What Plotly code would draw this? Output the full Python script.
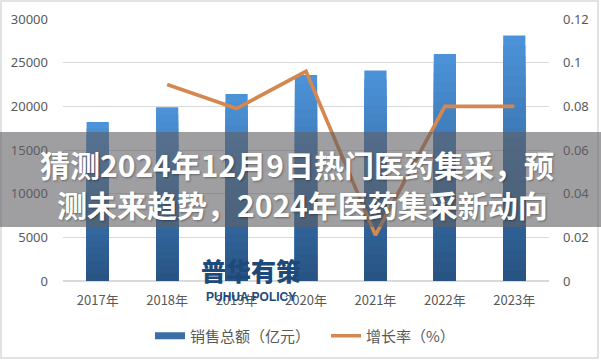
import plotly.graph_objects as go

years = ['2017年', '2018年', '2019年', '2020年', '2021年', '2022年', '2023年']
sales = [18200, 19900, 21400, 23600, 24100, 26000, 28100]
growth = [None, 0.090, 0.079, 0.096, 0.021, 0.080, 0.080]

sales_name = '销售总额（亿元）'
growth_name = '增长率（%）'
title_lines = ['猜测2024年12月9日热门医药集采，预', '测未来趋势，2024年医药集采新动向']
wm_cn = '普华有策'
wm_en = 'PUHUA POLICY'

fig = go.Figure()

# gradient bars: overlay layers, lighter at the top, darker at the base
N = 24
top_c = (76, 146, 216)
bot_c = (40, 84, 132)
for k in range(N, 0, -1):
    f = k / N
    t = (k - 1) / (N - 1)
    c = tuple(int(round(bot_c[i] + (top_c[i] - bot_c[i]) * t)) for i in range(3))
    fig.add_trace(go.Bar(
        x=years, y=[v * f for v in sales], width=0.32,
        marker=dict(color='rgb(%d,%d,%d)' % c, line=dict(width=0)),
        showlegend=False, hoverinfo='skip', yaxis='y'))

# legend entries
fig.add_trace(go.Scatter(x=[None], y=[None], mode='lines', name=sales_name,
                         line=dict(color='#3a6fa5', width=7), yaxis='y'))
fig.add_trace(go.Scatter(x=years, y=growth, mode='lines', name=growth_name,
                         line=dict(color='#D4884F', width=3.7), yaxis='y2',
                         connectgaps=False))

grid = '#d9d9d9'
tickfont = dict(family='Noto Sans, DejaVu Sans, sans-serif', size=13, color='#595959')
title_font = dict(family='Noto Sans CJK SC, sans-serif', size=30, color='white',
                  weight='bold', shadow='1px 1px 2px rgba(0,0,0,0.35)')
fig.update_layout(
    width=601, height=361,
    margin=dict(l=63, r=52, t=19, b=80, autoexpand=False),
    paper_bgcolor='white', plot_bgcolor='white',
    barmode='overlay',
    xaxis=dict(type='category', showgrid=False, zeroline=False, showline=False,
               tickfont=dict(family='Noto Sans CJK SC, sans-serif', size=13, color='#595959'),
               ticks='', ticklabelstandoff=10, automargin=False),
    yaxis=dict(range=[0, 30000], dtick=5000, tickformat='d', showgrid=True, gridcolor=grid,
               gridwidth=1, zeroline=True, zerolinecolor=grid, showline=False, ticks='',
               tickfont=tickfont, ticklabelstandoff=14, automargin=False),
    yaxis2=dict(range=[0, 0.12], dtick=0.02, overlaying='y', side='right', showgrid=False,
                zeroline=False, showline=False, ticks='', tickfont=tickfont,
                ticklabelstandoff=13, automargin=False),
    legend=dict(orientation='h', x=(154 - 63 - 4) / 486, xanchor='left', y=-0.21,
                yanchor='middle',
                font=dict(family='Noto Sans CJK SC, sans-serif', size=15, color='#595959'),
                itemwidth=30, entrywidth=131, bgcolor='rgba(0,0,0,0)'),
    hovermode=False,
    shapes=[
        dict(type='rect', xref='paper', yref='paper', x0=-0.1276, x1=1.1008,
             y0=-0.2939, y1=1.0687, line=dict(color='#d9d9d9', width=1.5),
             fillcolor='rgba(0,0,0,0)', layer='below'),
        dict(type='rect', xref='paper', yref='paper', x0=-0.2, x1=1.2,
             y0=(281 - 227) / 262, y1=(281 - 132) / 262,
             line=dict(width=0), fillcolor='rgba(95,95,100,0.6)', layer='above'),
    ],
    annotations=[
        dict(text=title_lines[0], xref='paper', yref='paper',
             x=(297 - 63) / 486, y=(281 - 164) / 262, showarrow=False,
             xanchor='center', yanchor='middle', font=title_font),
        dict(text=title_lines[1], xref='paper', yref='paper',
             x=(302 - 63) / 486, y=(281 - 204) / 262, showarrow=False,
             xanchor='center', yanchor='middle', font=title_font),
        dict(text=wm_cn, xref='paper', yref='paper', x=(251 - 63) / 486,
             y=(281 - 270) / 262, showarrow=False, xanchor='center', yanchor='middle',
             font=dict(family='Noto Sans CJK SC, sans-serif', size=25, color='#1d4a7a',
                       weight=900)),
        dict(text=wm_en, xref='paper', yref='paper', x=(251 - 63) / 486,
             y=(281 - 297) / 262, showarrow=False, xanchor='center', yanchor='middle',
             font=dict(family='Liberation Sans, sans-serif', size=12, color='#1d4a7a',
                       weight='bold')),
    ],
)

fig.write_html('out.html', config={'displayModeBar': False},
               post_script="document.body.style.margin='0';")
